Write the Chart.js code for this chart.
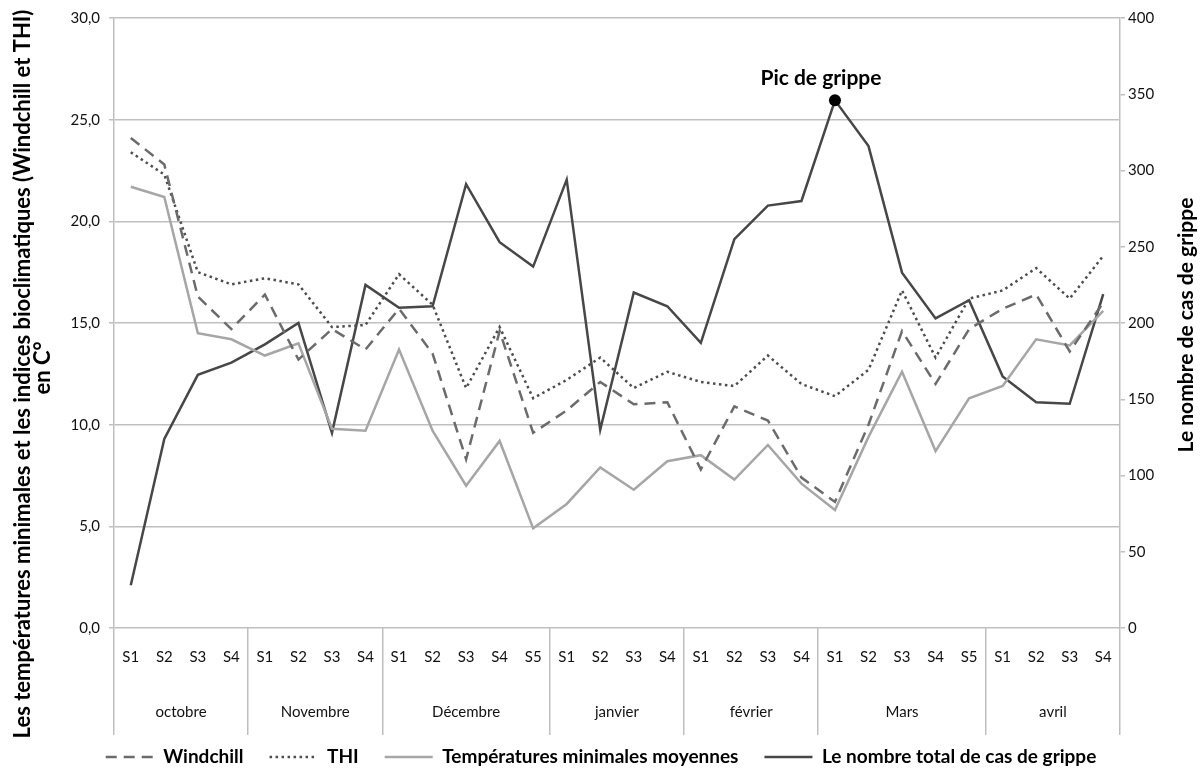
<!DOCTYPE html>
<html>
<head>
<meta charset="utf-8">
<script src="https://cdn.jsdelivr.net/npm/chart.js@4"></script>
<style>
html,body{margin:0;padding:0;background:#fff;}
canvas{display:block;}
</style>
</head>
<body>
<canvas id="c" width="1202" height="772"></canvas>
<script>
const weekLabels = ['S1','S2','S3','S4','S1','S2','S3','S4','S1','S2','S3','S4','S5','S1','S2','S3','S4','S1','S2','S3','S4','S1','S2','S3','S4','S5','S1','S2','S3','S4'];
const monthNames = ['octobre','Novembre','Décembre','janvier','février','Mars','avril'];
const monthWeeks = [4,4,5,4,4,5,4];

const windchill = [24.1,22.8,16.3,14.7,16.4,13.2,14.7,13.7,15.7,13.5,8.3,14.6,9.6,10.7,12.1,11.0,11.1,7.8,10.9,10.2,7.4,6.2,10.0,14.6,12.0,14.7,15.7,16.4,13.6,16.0];
const thi = [23.4,22.3,17.5,16.9,17.2,16.9,14.8,14.9,17.4,15.9,11.8,14.8,11.3,12.2,13.3,11.8,12.6,12.1,11.9,13.4,12.0,11.4,12.7,16.6,13.3,16.2,16.6,17.7,16.2,18.3];
const tempMin = [21.7,21.2,14.5,14.2,13.4,14.0,9.8,9.7,13.7,9.7,7.0,9.2,4.9,6.1,7.9,6.8,8.2,8.5,7.3,9.0,7.1,5.8,9.4,12.6,8.7,11.3,11.9,14.2,13.9,15.6];
const fluCases = [28,124,166,174,186,200,128,225,210,211,291,253,237,294,130,220,211,187,255,277,280,346,316,233,203,215,165,148,147,219];

const leftTitle = ['Les températures minimales et les indices bioclimatiques (Windchill et THI)', 'en C°'];
const rightTitle = 'Le nombre de cas de grippe';
const peakLabel = 'Pic de grippe';

// derived positions of month boundaries and centres (in category units)
const boundaries = [0];
monthWeeks.forEach(n => boundaries.push(boundaries[boundaries.length-1] + n));
const centers = monthWeeks.map((n,i) => boundaries[i] + n/2);
const peakIndex = fluCases.indexOf(Math.max(...fluCases));

const FONT = 'Lato';
const GRID = '#bfbfbf';
const TICK = '#111';

const titlesPlugin = {
  id: 'titles',
  afterDraw(chart) {
    const ctx = chart.ctx;
    ctx.save();
    ctx.fillStyle = '#000';
    ctx.textAlign = 'center';
    ctx.textBaseline = 'alphabetic';
    ctx.font = 'bold 22px ' + FONT;
    [[30, 374, leftTitle[0]], [50, 368, leftTitle[1]]].forEach(([x, y, t]) => {
      ctx.save(); ctx.translate(x, y); ctx.rotate(-Math.PI/2); ctx.fillText(t, 0, 0); ctx.restore();
    });
    ctx.font = 'bold 21px ' + FONT;
    ctx.save(); ctx.translate(1193, 325); ctx.rotate(-Math.PI/2); ctx.fillText(rightTitle, 0, 0); ctx.restore();
    ctx.restore();
  },
  afterDatasetsDraw(chart) {
    const meta = chart.getDatasetMeta(3);
    const pt = meta.data[peakIndex];
    if (!pt) return;
    const ctx = chart.ctx;
    ctx.save();
    ctx.fillStyle = '#000';
    ctx.font = 'bold 21px ' + FONT;
    ctx.textAlign = 'center';
    ctx.textBaseline = 'alphabetic';
    ctx.fillText(peakLabel, pt.x - 14, pt.y - 15);
    ctx.restore();
  }
};

new Chart(document.getElementById('c'), {
  type: 'line',
  data: {
    labels: weekLabels,
    datasets: [
      { label: 'Windchill', data: windchill, yAxisID: 'y', borderColor: '#6b6b6b', backgroundColor: '#6b6b6b', borderWidth: 2.5, borderDash: [11, 7], pointRadius: 0, tension: 0 },
      { label: 'THI', data: thi, yAxisID: 'y', borderColor: '#4d4d4d', backgroundColor: '#4d4d4d', borderWidth: 2.5, borderDash: [2.5, 3.5], pointRadius: 0, tension: 0 },
      { label: 'Températures minimales moyennes', data: tempMin, yAxisID: 'y', borderColor: '#a6a6a6', backgroundColor: '#a6a6a6', borderWidth: 2.5, pointRadius: 0, tension: 0 },
      { label: 'Le nombre total de cas de grippe', data: fluCases, yAxisID: 'y1', borderColor: '#474747', backgroundColor: '#000', borderWidth: 2.5, tension: 0,
        pointRadius: c => c.dataIndex === peakIndex ? 6 : 0, pointBackgroundColor: '#000', pointBorderColor: '#000', pointBorderWidth: 0 }
    ]
  },
  options: {
    responsive: false,
    animation: false,
    devicePixelRatio: 1,
    layout: { padding: { top: 18, left: 0, right: 0, bottom: -4.5 } },
    plugins: {
      tooltip: { enabled: false },
      legend: {
        position: 'bottom',
        fullSize: true,
        labels: {
          font: { family: FONT, size: 19, weight: 'bold' },
          color: '#000',
          padding: 26,
          usePointStyle: true,
          pointStyle: 'line',
          pointStyleWidth: 48,
          generateLabels: chart => chart.data.datasets.map((ds, i) => ({
            text: ds.label, fillStyle: ds.borderColor, strokeStyle: ds.borderColor,
            lineWidth: ds.borderWidth, lineDash: ds.borderDash || [], lineCap: 'butt',
            pointStyle: 'line', hidden: false, datasetIndex: i, fontColor: '#000'
          }))
        }
      }
    },
    scales: {
      x: {
        type: 'category', position: 'bottom', offset: true, weight: 0,
        grid: { display: false, drawTicks: false },
        border: { display: false },
        ticks: { font: { family: FONT, size: 15 }, color: TICK, padding: 20, autoSkip: false, maxRotation: 0 },
        afterFit: s => { s.height = 57; }
      },
      xsep: {
        type: 'linear', position: 'bottom', min: 0, max: 30, weight: -10,
        grid: { display: true, drawOnChartArea: false, drawTicks: true, tickLength: 107, color: GRID, tickColor: GRID, lineWidth: 1.5 },
        border: { display: false },
        ticks: { display: false },
        afterBuildTicks: s => { s.ticks = boundaries.map(v => ({ value: v })); },
        afterFit: s => { s.height = 0; }
      },
      xmonth: {
        type: 'linear', position: 'bottom', min: 0, max: 30, weight: 10,
        grid: { display: false, drawTicks: false },
        border: { display: false },
        ticks: { font: { family: FONT, size: 15 }, color: TICK, padding: 18, autoSkip: false, maxRotation: 0,
          callback: (v, i) => monthNames[i] },
        afterBuildTicks: s => { s.ticks = centers.map(v => ({ value: v })); },
        afterFit: s => { s.height = 36.5; }
      },
      y: {
        position: 'left', min: 0, max: 30,
        grid: { color: GRID, lineWidth: 1.5, tickLength: 5, tickColor: GRID },
        border: { display: true, color: GRID, width: 1.5 },
        ticks: { stepSize: 5, padding: 9, font: { family: FONT, size: 15 }, color: TICK,
          callback: v => v.toFixed(1).replace('.', ',') },
        afterFit: s => { s.width = 114; }
      },
      y1: {
        position: 'right', min: 0, max: 400,
        grid: { drawOnChartArea: false, tickLength: 5, color: GRID, tickColor: GRID, lineWidth: 1.5 },
        border: { display: true, color: GRID, width: 1.5 },
        ticks: { stepSize: 50, padding: 3, font: { family: FONT, size: 15 }, color: TICK },
        afterFit: s => { s.width = 82; }
      }
    }
  },
  plugins: [titlesPlugin]
});
</script>
</body>
</html>
